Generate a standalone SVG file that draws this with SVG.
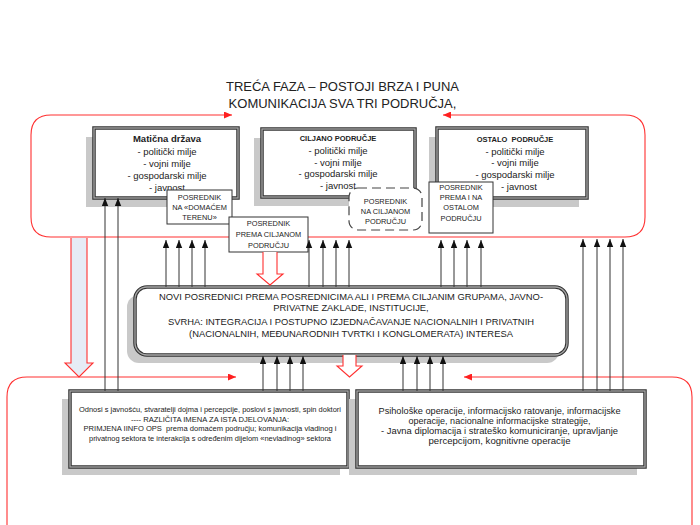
<svg xmlns="http://www.w3.org/2000/svg" width="700" height="525" viewBox="0 0 700 525">
<style>
text{font-family:"Liberation Sans",Arial,sans-serif;fill:#222;text-anchor:middle}
.t{font-size:9.5px}
.b{font-weight:bold}
.s{font-size:7.4px}
.m{font-size:9.4px}
.l{font-size:6.6px}
.r{font-size:8.6px}
.shadow{fill:#c9c9c9}
.box{fill:#fff;stroke:#333;stroke-width:3.5}
.boxin{fill:none;stroke:#a8a8a8;stroke-width:1.3}
.pos{fill:#fff;stroke:#333;stroke-width:1}
.frame{fill:none;stroke:#ff3030;stroke-width:1.1}
.ar{fill:none;stroke:#333;stroke-width:1}
.blk{stroke:#ff3030;stroke-width:1.1}
</style>
<defs>
<marker id="ah" markerUnits="userSpaceOnUse" markerWidth="8" markerHeight="7" refX="8" refY="3.5" orient="auto"><path d="M0,0.3 L8,3.5 L0,6.7 z" fill="#111"/></marker>
<marker id="rh" markerUnits="userSpaceOnUse" markerWidth="8" markerHeight="7" refX="8" refY="3.5" orient="auto-start-reverse"><path d="M0,0 L8,3.5 L0,7 z" fill="#ff2020"/></marker>
</defs>
<rect width="700" height="525" fill="#fff"/>

<g id="title">
<text x="342.5" y="91" style="font-size:13px">TREĆA FAZA – POSTOJI BRZA I PUNA</text>
<text x="342.5" y="107.5" style="font-size:13px">KOMUNIKACIJA SVA TRI PODRUČJA,</text>
</g>

<g id="frames">
<path class="frame" d="M232,115 H51 Q31,115 31,135 V217 Q31,237 51,237 H625 Q645,237 645,217 V135 Q645,115 625,115 H443" marker-start="url(#rh)" marker-end="url(#rh)"/>
<path class="frame" d="M236,377 H27 Q7,377 7,397 V560 H692 V397 Q692,377 672,377 H464" marker-start="url(#rh)" marker-end="url(#rh)"/>
</g>

<g id="maticna">
<rect class="shadow" x="86" y="137" width="144" height="70"/>
<rect class="box" x="94" y="128" width="144" height="70"/>
<rect class="boxin" x="94" y="128" width="144" height="70"/>
<text class="t b" x="167" y="141.5">Matična država</text>
<text class="t" x="167" y="155">- politički milje</text>
<text class="t" x="167" y="167">- vojni milje</text>
<text class="t" x="167" y="179">- gospodarski milje</text>
<text class="t" x="167" y="191">- javnost</text>
</g>

<g id="ciljano">
<rect class="shadow" x="254" y="138" width="153" height="68"/>
<rect class="box" x="262" y="129" width="153" height="68"/>
<rect class="boxin" x="262" y="129" width="153" height="68"/>
<text class="b" x="338" y="141" style="font-size:7.5px">CILJANO PODRUČJE</text>
<text class="t" x="338" y="153.5">- politički milje</text>
<text class="t" x="338" y="165.5">- vojni milje</text>
<text class="t" x="338" y="177">- gospodarski milje</text>
<text class="t" x="338" y="188.5">- javnost</text>
</g>

<g id="ostalo">
<rect class="shadow" x="429" y="137" width="150" height="70"/>
<rect class="box" x="437" y="128" width="150" height="70"/>
<rect class="boxin" x="437" y="128" width="150" height="70"/>
<text class="b" x="515" y="141.5" style="font-size:7.5px;white-space:pre">OSTALO  PODRUČJE</text>
<text class="t" x="515" y="154.5">- politički milje</text>
<text class="t" x="515" y="165.5">- vojni milje</text>
<text class="t" x="515" y="177.5">- gospodarski milje</text>
<text class="t" x="519" y="190">- javnost</text>
</g>

<g id="posrednik-domace">
<rect class="pos" x="167" y="190" width="65" height="34"/>
<text class="s" x="199.5" y="199.5">POSREDNIK</text>
<text class="s" x="199.5" y="209.5">NA «DOMAĆEM</text>
<text class="s" x="199.5" y="219.5">TERENU»</text>
</g>

<g id="posrednik-na-ciljanom">
<rect x="349" y="188" width="73" height="42" rx="9" fill="#fff" stroke="#444" stroke-width="1.2" stroke-dasharray="9,5"/>
<text class="s" x="385.5" y="204">POSREDNIK</text>
<text class="s" x="385.5" y="214">NA CILJANOM</text>
<text class="s" x="385.5" y="223.5">PODRUČJU</text>
</g>

<g id="posrednik-ostalo">
<rect class="pos" x="429" y="182" width="64" height="51"/>
<text class="s" x="461" y="189.5">POSREDNIK</text>
<text class="s" x="461" y="199.5">PREMA I NA</text>
<text class="s" x="461" y="209.5">OSTALOM</text>
<text class="s" x="461" y="220.5">PODRUČJU</text>
</g>

<g id="posrednik-prema-ciljanom">
<rect class="pos" x="229" y="217" width="79" height="35"/>
<text class="s" x="268.5" y="226">POSREDNIK</text>
<text class="s" x="268.5" y="236.5">PREMA CILJANOM</text>
<text class="s" x="268.5" y="247.5">PODRUČJU</text>
</g>

<g id="novi-posrednici">
<rect class="shadow" x="127" y="295" width="432" height="68" rx="12"/>
<rect class="box" x="135" y="287" width="432" height="68" rx="12"/>
<rect class="boxin" x="135" y="287" width="432" height="68" rx="12"/>
<text class="m" x="351" y="299.5">NOVI POSREDNICI PREMA POSREDNICIMA ALI I PREMA CILJANIM GRUPAMA, JAVNO-</text>
<text class="m" x="351" y="311">PRIVATNE ZAKLADE, INSTITUCIJE,</text>
<text class="m" x="351" y="324.5">SVRHA: INTEGRACIJA I POSTUPNO IZJEDNAČAVANJE NACIONALNIH I PRIVATNIH</text>
<text class="m" x="351" y="336.5">(NACIONALNIH, MEĐUNARODNIH TVRTKI I KONGLOMERATA) INTERESA</text>
</g>

<g id="odnosi">
<rect class="shadow" x="62" y="399" width="278" height="76"/>
<rect class="box" x="70" y="391" width="278" height="76"/>
<rect class="boxin" x="70" y="391" width="278" height="76"/>
<text class="l" x="210" y="412" textLength="262" lengthAdjust="spacingAndGlyphs">Odnosi s javnošću, stvaratelji dojma i percepcije, poslovi s javnosti, spin doktori</text>
<text class="l" x="210" y="421.5" textLength="158" lengthAdjust="spacingAndGlyphs">---- RAZLIČITA IMENA ZA ISTA DJELOVANJA:</text>
<text class="l" x="210" y="431" textLength="253" lengthAdjust="spacingAndGlyphs" style="white-space:pre">PRIMJENA IINFO OPS  prema domaćem području; komunikacija vladinog i</text>
<text class="l" x="210" y="440.5" textLength="242" lengthAdjust="spacingAndGlyphs">privatnog sektora te interakcija s određenim dijelom «nevladinog» sektora</text>
</g>

<g id="psiholoske">
<rect class="shadow" x="349" y="399" width="288" height="76"/>
<rect class="box" x="357" y="391" width="288" height="76"/>
<rect class="boxin" x="357" y="391" width="288" height="76"/>
<text class="r" x="499.5" y="414" textLength="242" lengthAdjust="spacingAndGlyphs">Psihološke operacije, informacijsko ratovanje, informacijske</text>
<text class="r" x="499.5" y="424" textLength="182" lengthAdjust="spacingAndGlyphs">operacije, nacionalne informacijske strategije,</text>
<text class="r" x="499.5" y="434" textLength="237" lengthAdjust="spacingAndGlyphs">- Javna diplomacija i strateško komuniciranje, upravljanje</text>
<text class="r" x="499.5" y="444" textLength="142" lengthAdjust="spacingAndGlyphs">percepcijom, kognitivne operacije</text>
</g>

<g id="connectors">
<path d="M71,238 V363 H65 L79,377 L93,363 H87 V238" fill="#e6ecf6" class="blk"/>
<path d="M263,252 V274 H257 L270,285 L283,274 H277 V252" fill="#fff" class="blk"/>
<path d="M343,355 V366 H337 L349.5,377 L362,366 H356 V355" fill="#fff" class="blk"/>
<g class="ar" marker-end="url(#ah)">
<path d="M105,391 V198"/><path d="M118,391 V198"/>
<path d="M166,287 V240"/><path d="M179,287 V240"/><path d="M192,287 V240"/><path d="M205,287 V240"/>
<path d="M309,287 V240"/><path d="M323,287 V240"/><path d="M336,287 V240"/><path d="M349,287 V240"/>
<path d="M441,287 V240"/><path d="M454,287 V240"/><path d="M467,287 V240"/><path d="M481,287 V240"/>
<path d="M583,391 V239"/><path d="M597,391 V239"/><path d="M610,391 V239"/><path d="M623,391 V239"/>
<path d="M263,391 V356"/><path d="M277,391 V356"/><path d="M290,391 V356"/><path d="M303,391 V356"/>
<path d="M403,391 V356"/><path d="M417,391 V356"/><path d="M430,391 V356"/><path d="M443,391 V356"/>
</g>
</g>
</svg>
